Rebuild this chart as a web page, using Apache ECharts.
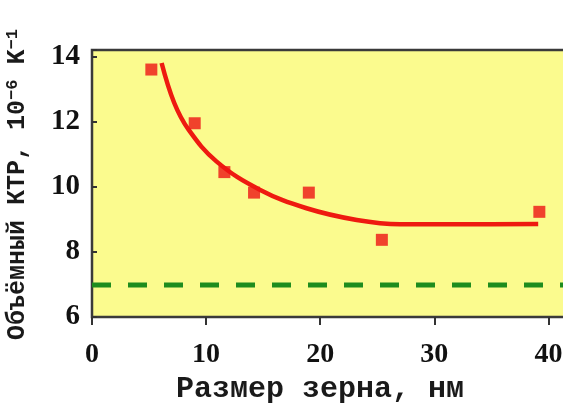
<!DOCTYPE html>
<html>
<head>
<meta charset="utf-8">
<script src="https://cdn.jsdelivr.net/npm/echarts@6/dist/echarts.min.js"></script>
<style>
  html, body { margin: 0; padding: 0; background: #fff; }
  #chart { width: 563px; height: 406px; }
</style>
</head>
<body>
<div id="chart"></div>
<script>
  // измеренные точки: размер зерна (нм) и объёмный КТР
  var grainSize = [5.2, 9.0, 11.6, 14.2, 19.0, 25.4, 39.2];
  var ktrValues = [13.6, 11.95, 10.45, 9.82, 9.82, 8.37, 9.23];

  // аппроксимирующая кривая
  var fitX = [6.1, 7.2, 8.45, 10.9, 14.7, 18.8, 23.2, 27.0, 33.0, 39.1];
  var fitY = [13.8, 12.58, 11.76, 10.78, 9.91, 9.34, 8.98, 8.85, 8.85, 8.86];

  // уровень массивного материала (пунктир)
  var bulkX = [0, 42.5];
  var bulkY = [6.98, 6.98];

  var xTicks = [0, 10, 20, 30, 40];
  var yTicks = [6, 8, 10, 12, 14];

  function pairs(xs, ys) {
    var out = [];
    for (var i = 0; i < xs.length; i++) out.push([xs[i], ys[i]]);
    return out;
  }

  var myChart = echarts.init(document.getElementById('chart'), null, { renderer: 'canvas' });

  var option = {
    animation: false,
    backgroundColor: '#ffffff',
    grid: {
      left: 92,
      top: 50,
      bottom: 89,
      right: -14,
      outerBoundsMode: 'none',
      show: true,
      backgroundColor: '#fbfb8e',
      borderColor: '#3a3a3a',
      borderWidth: 2.5
    },
    xAxis: {
      type: 'value',
      min: 0,
      max: 42.5,
      interval: 10,
      splitLine: { show: false },
      axisLine: { show: false },
      axisTick: { show: true, inside: false, length: 8, lineStyle: { color: '#333', width: 2 } },
      axisLabel: {
        margin: 24,
        fontFamily: 'Liberation Serif',
        fontWeight: 'bold',
        fontSize: 28,
        color: '#111',
        formatter: function (v) { return xTicks.indexOf(v) >= 0 ? String(v) : ''; }
      }
    },
    yAxis: {
      type: 'value',
      min: 6,
      max: 14.2,
      interval: 2,
      splitLine: { show: false },
      axisLine: { show: false },
      axisTick: { show: true, inside: true, length: 5, lineStyle: { color: '#333', width: 2 } },
      axisLabel: {
        margin: 12,
        fontFamily: 'Liberation Serif',
        fontWeight: 'bold',
        fontSize: 29,
        color: '#111',
        formatter: function (v) { return yTicks.indexOf(v) >= 0 ? String(v) : ''; }
      }
    },
    graphic: [
      {
        type: 'text',
        left: 176,
        top: 374,
        style: {
          text: 'Размер зерна, нм',
          font: 'bold 30px "Liberation Mono"',
          fill: '#1a1a1a'
        }
      },
      {
        type: 'text',
        x: 4,
        y: 340,
        rotation: Math.PI / 2,
        style: {
          text: 'Объёмный КТР, 10{s|−6} K{s|−1}',
          font: 'bold 25px "Liberation Mono"',
          fill: '#1a1a1a',
          rich: {
            s: { font: 'bold 17px "Liberation Mono"', fill: '#1a1a1a', verticalAlign: 'top', padding: [0, 0, 10, 0] }
          }
        }
      }
    ],
    series: [
      {
        name: 'bulk',
        type: 'line',
        data: pairs(bulkX, bulkY),
        symbol: 'none',
        lineStyle: { color: '#1e8c1e', width: 5, type: [19, 17] },
        z: 2
      },
      {
        name: 'fit',
        type: 'line',
        data: pairs(fitX, fitY),
        symbol: 'none',
        smooth: 0.4,
        lineStyle: { color: '#ee1a10', width: 4.5 },
        z: 3
      },
      {
        name: 'КТР',
        type: 'scatter',
        data: pairs(grainSize, ktrValues),
        symbol: 'rect',
        symbolSize: 12,
        itemStyle: { color: '#ee1414' },
        z: 4
      }
    ]
  };

  myChart.setOption(option);
</script>
</body>
</html>
